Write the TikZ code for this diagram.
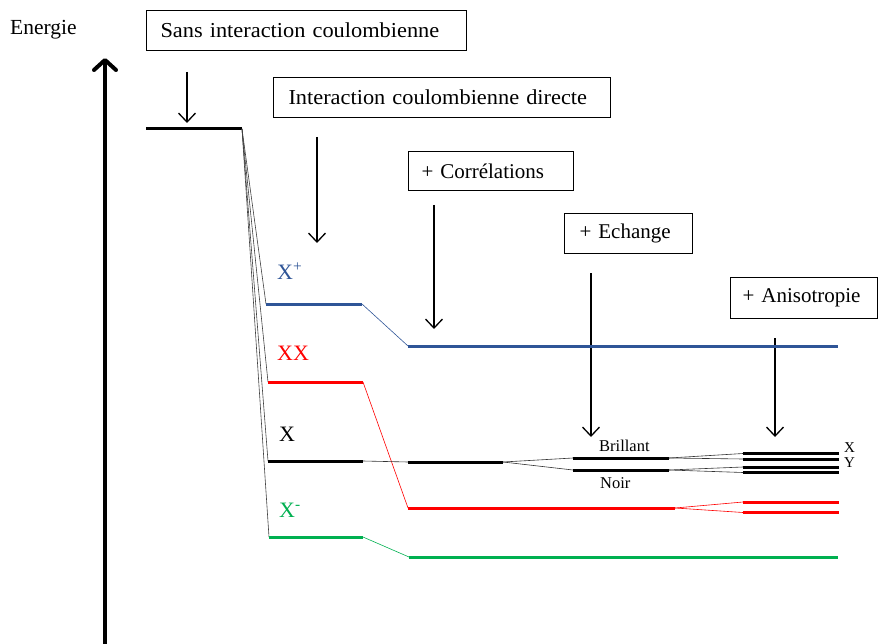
\documentclass[tikz,border=0pt]{standalone}
\usepackage{fontspec}
\setmainfont{Liberation Serif}
\newfontfamily\mywidefont[FakeStretch=1.05]{Liberation Serif}
\usetikzlibrary{arrows.meta}
\definecolor{lvblue}{RGB}{47,85,151}
\definecolor{lvred}{RGB}{255,0,0}
\definecolor{lvgreen}{RGB}{0,176,80}
\tikzset{
  boxlbl/.style={draw, line width=1pt, anchor=north west, inner ysep=0pt, align=left,
    font=\fontsize{21}{24}\selectfont},
  widesp/.style={font=\mywidefont\fontsize{21.3}{24}\selectfont},
  dnarrow/.style={line width=1.3pt, -{Straight Barb[length=9pt,width=17pt]}},
  level/.style={line width=3pt},
  link/.style={line width=0.6pt},
  fan/.style={line width=0.6pt, black!75},
  lvtxt/.style={font=\fontsize{22}{24}\selectfont, inner sep=0pt},
  smtxt/.style={font=\fontsize{16.5}{18}\selectfont, inner sep=0pt},
}
\begin{document}
\begin{tikzpicture}[x=1pt,y=-1pt]
\useasboundingbox (0,0) rectangle (880,644);
% axis
\coordinate (axb) at (105,650);
\coordinate (axt) at (105,58);
\draw[line width=4pt, -{Straight Barb[length=10pt,width=22pt,round]}] (axb) -- (axt);
\node[font=\fontsize{21.5}{24}\selectfont, anchor=west, inner sep=0pt] (energie) at (10,30) {Energie};
% boxes
\node[boxlbl, widesp, inner xsep=14pt, text width=292pt, minimum height=40pt] (b1) at (146,10) {Sans interaction coulombienne};
\node[boxlbl, widesp, inner xsep=15pt, text width=307pt, minimum height=40pt] (b2) at (273,77) {Interaction coulombienne directe};
\node[boxlbl, inner xsep=13pt, text width=139pt, minimum height=39pt] (b3) at (408,151) {+ Corrélations};
\node[boxlbl, inner xsep=15pt, text width=98pt, minimum height=40pt] (b4) at (564,213) {+ Echange};
\node[boxlbl, inner xsep=12pt, text width=123pt, minimum height=41pt] (b5) at (730,277) {+ Anisotropie};
% down arrows
\coordinate (d1s) at (187,72);  \coordinate (d1e) at (187,123);
\coordinate (d2s) at (317,137); \coordinate (d2e) at (317,243);
\coordinate (d3s) at (434,205); \coordinate (d3e) at (434,329);
\coordinate (d4s) at (591,273); \coordinate (d4e) at (591,437);
\coordinate (d5s) at (775,338); \coordinate (d5e) at (775,437);
\foreach \i in {1,...,5} \draw[dnarrow] (d\i s) -- (d\i e);
% top level
\coordinate (t0) at (146,129); \coordinate (t1) at (242,129);
\draw[level] (t0) -- (t1);
% column 1 levels
\coordinate (p0) at (266,304); \coordinate (p1) at (362,304);
\coordinate (r0) at (268,382); \coordinate (r1) at (363,382);
\coordinate (x0) at (268,461); \coordinate (x1) at (363,461);
\coordinate (m0) at (269,537); \coordinate (m1) at (363,537);
\foreach \c in {p0,r0,x0,m0} \draw[fan] (t1) -- (\c);
\draw[level, lvblue] (p0) -- (p1);
\draw[level, lvred] (r0) -- (r1);
\draw[level, black] (x0) -- (x1);
\draw[level, lvgreen] (m0) -- (m1);
\node[lvtxt, lvblue, anchor=west] (lp) at (277,271) {X\textsuperscript{+}};
\node[lvtxt, lvred, anchor=west] (lr) at (277,353) {XX};
\node[lvtxt, black, anchor=west] (lx) at (279,434) {X};
\node[lvtxt, lvgreen, anchor=west] (lm) at (279,510) {X\textsuperscript{-}};
% column 2 levels
\coordinate (p2) at (408,346); \coordinate (p3) at (838,346);
\coordinate (r2) at (408,508); \coordinate (r3) at (675,508);
\coordinate (x2) at (408,462); \coordinate (x3) at (503,462);
\coordinate (m2) at (409,557); \coordinate (m3) at (838,557);
\draw[link, lvblue] (p1) -- (p2);
\draw[link, lvred] (r1) -- (r2);
\draw[link, black!80] (x1) -- (x2);
\draw[link, lvgreen] (m1) -- (m2);
\draw[level, lvblue] (p2) -- (p3);
\draw[level, lvred] (r2) -- (r3);
\draw[level, black] (x2) -- (x3);
\draw[level, lvgreen] (m2) -- (m3);
% exchange
\coordinate (bb0) at (573,458); \coordinate (bb1) at (669,458);
\coordinate (nn0) at (573,470); \coordinate (nn1) at (669,470);
\draw[link, black!80] (x3) -- (bb0);
\draw[link, black!80] (x3) -- (nn0);
\draw[level] (bb0) -- (bb1);
\draw[level] (nn0) -- (nn1);
\node[smtxt, anchor=base west] (lb) at (599,451) {Brillant};
\node[smtxt, anchor=base west] (ln) at (600,488) {Noir};
% anisotropy
\coordinate (a10) at (743,453.5); \coordinate (a11) at (839,453.5);
\coordinate (a20) at (743,459); \coordinate (a21) at (839,459);
\coordinate (a30) at (743,467); \coordinate (a31) at (839,467);
\coordinate (a40) at (743,472.5); \coordinate (a41) at (839,472.5);
\draw[link, black!80] (bb1) -- (a10);
\draw[link, black!80] (bb1) -- (a20);
\draw[link, black!80] (nn1) -- (a30);
\draw[link, black!80] (nn1) -- (a40);
\foreach \k in {1,2,3,4} \draw[level] (a\k 0) -- (a\k 1);
\node[smtxt, font=\fontsize{15}{16}\selectfont, anchor=west] (lX) at (844,448) {X};
\node[smtxt, font=\fontsize{15}{16}\selectfont, anchor=west] (lY) at (844,463) {Y};
\coordinate (rr10) at (743,502); \coordinate (rr11) at (839,502);
\coordinate (rr20) at (743,512.5); \coordinate (rr21) at (839,512.5);
\draw[link, lvred] (r3) -- (rr10);
\draw[link, lvred] (r3) -- (rr20);
\draw[level, lvred] (rr10) -- (rr11);
\draw[level, lvred] (rr20) -- (rr21);
\end{tikzpicture}
\end{document}
